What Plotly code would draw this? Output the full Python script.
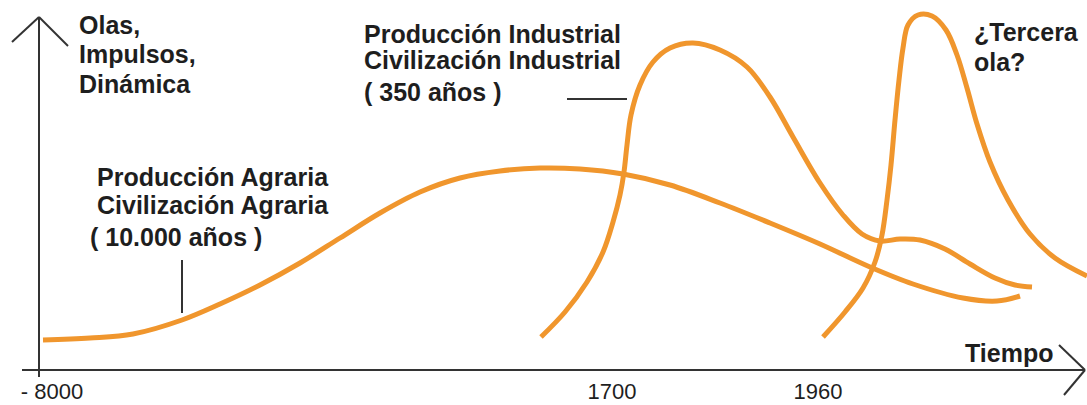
import plotly.graph_objects as go

# ---- data (x = position along the time axis, y = height of the wave above the time axis) ----
agraria_x = [43, 90, 133, 182, 220, 260, 300, 340, 380, 420, 460, 500, 540, 580, 623, 670, 720, 770, 820, 870, 913, 963, 997, 1020]
agraria_y = [30, 32, 36, 50, 66, 85, 107, 132, 157, 178, 192, 199, 202, 201, 196, 185, 167, 147, 126, 103, 86, 72, 69, 74]

industrial_x = [541, 565, 587, 603, 613, 620, 624, 627, 631, 640, 653, 670, 693, 720, 747, 770, 793, 820, 843, 862, 880, 900, 920, 945, 970, 995, 1015, 1032]
industrial_y = [33, 58, 88, 118, 148, 175, 198, 225, 255, 285, 308, 322, 327, 320, 303, 273, 233, 187, 155, 136, 129, 131, 130, 121, 106, 92, 85, 83]

tercera_x = [823, 845, 863, 875, 882, 887, 891, 895, 899, 903, 908, 918, 932, 946, 957, 967, 977, 990, 1008, 1030, 1055, 1087]
tercera_y = [33, 58, 82, 108, 135, 170, 205, 250, 290, 322, 345, 355, 354, 340, 315, 282, 246, 208, 170, 136, 112, 94]

tick_vals = [52, 612, 818]
tick_text = ["- 8000", "1700", "1960"]

label_text = ["Olas,", "Impulsos,", "Dinámica",
              "Producción Industrial", "Civilización Industrial", "( 350 años )",
              "Producción Agraria", "Civilización Agraria", "( 10.000 años )",
              "¿Tercera", "ola?", "Tiempo"]
label_x = [77, 77, 77, 362, 362, 362, 95, 95, 88, 972, 972, 963]
label_baseline = [33, 62, 92, 42, 68, 100, 185, 213, 245, 40, 70, 361]

# ---- styling ----
W, H = 1087, 405
BASE = 370            # pixel row of the time axis
ORANGE = "#F0962D"
AXIS = "#333333"
TXT = "#1e1e1e"
FONT = "Liberation Sans, Arial, sans-serif"
FS = 25

fig = go.Figure()
for xs, ys in [(agraria_x, agraria_y), (industrial_x, industrial_y), (tercera_x, tercera_y)]:
    fig.add_trace(go.Scatter(x=xs, y=ys, mode="lines",
                             line=dict(color=ORANGE, width=5, shape="spline", smoothing=1.0),
                             hoverinfo="skip", showlegend=False))

def h(py):
    return BASE - py

shapes = []
def seg(x0, y0, x1, y1, w=2):
    shapes.append(dict(type="line", xref="x", yref="y", x0=x0, y0=h(y0), x1=x1, y1=h(y1),
                       line=dict(color=AXIS, width=w)))

# vertical axis with open arrow
seg(39, 377, 39, 17)
seg(39, 17, 12, 42)
seg(39, 17, 68, 46)
# horizontal axis with open arrow
seg(22, 370, 1085, 370)
seg(1085, 370, 1059, 345)
seg(1085, 370, 1064, 395)
# pointer lines
seg(182, 260, 182, 313)
seg(567, 99, 627, 99)

annotations = []
for t, x, b in zip(label_text, label_x, label_baseline):
    annotations.append(dict(x=x, y=h(b - 8), xref="x", yref="y", text=t, showarrow=False,
                            xanchor="left", yanchor="middle",
                            font=dict(family=FONT, size=FS, color=TXT, weight="bold")))

fig.update_layout(
    width=W, height=H, margin=dict(l=0, r=0, t=0, b=0),
    paper_bgcolor="white", plot_bgcolor="white",
    shapes=shapes, annotations=annotations,
    xaxis=dict(range=[0, W], domain=[0, 1], anchor="free", position=(H - BASE) / H,
               showgrid=False, zeroline=False, showline=False, ticks="",
               tickmode="array", tickvals=tick_vals, ticktext=tick_text,
               tickfont=dict(family=FONT, size=22, color=TXT), ticklabelstandoff=6),
    yaxis=dict(range=[-(H - BASE), BASE], domain=[0, 1], visible=False),
)
fig.write_html("out.html", config={"displayModeBar": False},
               post_script="document.body.style.margin='0';document.body.style.overflow='hidden';")
